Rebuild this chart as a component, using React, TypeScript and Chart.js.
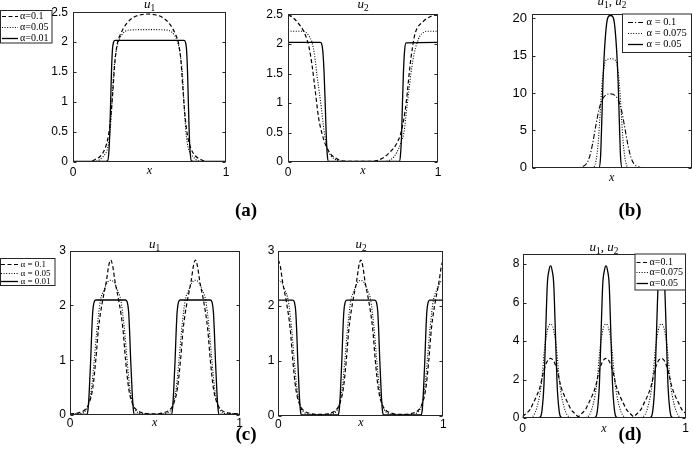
import React, { useEffect, useRef } from "react";
import { Chart, registerables } from "chart.js";
Chart.register(...registerables);

const W = 693;
const H = 466;
const SANS = '"Liberation Sans", Arial, sans-serif';
const SERIF = '"Liberation Serif", "Times New Roman", serif';

// ---------- Panel (a): u1 ----------
const aU1_x_01 = [0, 0.1, 0.15, 0.18, 0.21, 0.23, 0.245, 0.26, 0.275, 0.29, 0.31, 0.35, 0.4, 0.45, 0.49, 0.53, 0.58, 0.63, 0.67, 0.69, 0.705, 0.72, 0.735, 0.75, 0.77, 0.8, 0.83, 0.88, 1];
const aU1_y_01 = [0, 0, 0.05, 0.1, 0.23, 0.42, 0.7, 1.16, 1.7, 1.98, 2.13, 2.31, 2.42, 2.46, 2.47, 2.46, 2.42, 2.31, 2.13, 1.98, 1.7, 1.16, 0.7, 0.42, 0.23, 0.1, 0.05, 0, 0];
const aU1_x_005 = [0, 0.15, 0.176, 0.2, 0.22, 0.232, 0.242, 0.253, 0.264, 0.275, 0.286, 0.3, 0.318, 0.34, 0.36, 0.5, 0.62, 0.64, 0.662, 0.68, 0.694, 0.705, 0.716, 0.727, 0.738, 0.748, 0.76, 0.78, 0.804, 0.83, 1];
const aU1_y_005 = [0, 0.01, 0.04, 0.1, 0.18, 0.3, 0.5, 0.9, 1.44, 1.72, 1.9, 2.03, 2.12, 2.18, 2.2, 2.21, 2.2, 2.18, 2.12, 2.03, 1.9, 1.72, 1.44, 0.9, 0.5, 0.3, 0.18, 0.1, 0.04, 0.01, 0];
const aU1_x_001 = [0, 0.2, 0.226, 0.234, 0.24, 0.246, 0.252, 0.258, 0.265, 0.275, 0.5, 0.725, 0.735, 0.742, 0.748, 0.754, 0.76, 0.766, 0.774, 0.8, 1];
const aU1_y_001 = [0.01, 0.01, 0.02, 0.15, 0.45, 1.0, 1.55, 1.88, 2.0, 2.03, 2.03, 2.03, 2.0, 1.88, 1.55, 1.0, 0.45, 0.15, 0.02, 0.01, 0.01];

// ---------- Panel (a): u2 ----------
const aU2_x_01 = [0, 0.015, 0.06, 0.115, 0.14, 0.16, 0.182, 0.204, 0.225, 0.249, 0.28, 0.315, 0.36, 0.45, 0.55, 0.6, 0.64, 0.68, 0.724, 0.75, 0.769, 0.79, 0.812, 0.83, 0.847, 0.9, 0.95, 1];
const aU2_y_01 = [2.49, 2.48, 2.38, 2.16, 1.95, 1.65, 1.2, 0.75, 0.5, 0.3, 0.15, 0.07, 0.02, 0.01, 0.01, 0.03, 0.08, 0.17, 0.31, 0.47, 0.68, 1.05, 1.6, 1.95, 2.18, 2.38, 2.47, 2.5];
const aU2_x_005 = [0, 0.1, 0.12, 0.14, 0.16, 0.178, 0.193, 0.208, 0.222, 0.234, 0.244, 0.262, 0.282, 0.31, 0.35, 0.5, 0.65, 0.69, 0.71, 0.74, 0.757, 0.773, 0.785, 0.796, 0.81, 0.825, 0.842, 0.858, 0.88, 0.905, 0.925, 1];
const aU2_y_005 = [2.22, 2.22, 2.2, 2.14, 2.03, 1.8, 1.48, 1.2, 0.92, 0.66, 0.46, 0.24, 0.12, 0.05, 0.01, 0.0, 0.01, 0.05, 0.1, 0.24, 0.36, 0.5, 0.75, 1.0, 1.3, 1.6, 1.85, 2.0, 2.14, 2.2, 2.22, 2.22];
const aU2_x_001 = [0, 0.215, 0.225, 0.232, 0.24, 0.248, 0.255, 0.262, 0.27, 0.5, 0.742, 0.75, 0.757, 0.763, 0.77, 0.777, 0.787, 1];
const aU2_y_001 = [2.03, 2.03, 2.0, 1.88, 1.55, 1.0, 0.45, 0.12, 0.01, 0.01, 0.01, 0.12, 0.45, 1.0, 1.55, 1.88, 2.02, 2.03];

// ---------- Panel (b): u1, u2 ----------
const b_x_01 = [0, 0.29, 0.31, 0.34, 0.36, 0.38, 0.4, 0.42, 0.44, 0.46, 0.49, 0.52, 0.54, 0.56, 0.58, 0.6, 0.62, 0.64, 0.67, 0.69, 1];
const b_y_01 = [0, 0, 0.1, 0.5, 1.4, 3.2, 5.6, 7.8, 9.1, 9.7, 9.9, 9.7, 9.1, 7.8, 5.6, 3.2, 1.4, 0.5, 0.1, 0, 0];
const b_x_0075 = [0, 0.38, 0.4, 0.415, 0.425, 0.435, 0.445, 0.455, 0.47, 0.4935, 0.517, 0.532, 0.542, 0.552, 0.562, 0.572, 0.587, 0.607, 1];
const b_y_0075 = [0, 0, 0.8, 3.3, 6.5, 10, 12.5, 13.9, 14.5, 14.6, 14.5, 13.9, 12.5, 10, 6.5, 3.3, 0.8, 0, 0];
const b_x_005 = [0, 0.42, 0.43, 0.435, 0.44, 0.445, 0.45, 0.46, 0.47, 0.48, 0.4925, 0.505, 0.515, 0.525, 0.535, 0.54, 0.545, 0.55, 0.555, 0.565, 1];
const b_y_005 = [0, 0, 1.5, 4.5, 8, 11.5, 14, 17.5, 19.6, 20.3, 20.4, 20.3, 19.6, 17.5, 14, 11.5, 8, 4.5, 1.5, 0, 0];

// ---------- Panel (c): u1 ----------
const cU1_x_01 = [0, 0.05, 0.09, 0.113, 0.134, 0.152, 0.168, 0.19, 0.215, 0.228, 0.24, 0.252, 0.265, 0.29, 0.312, 0.328, 0.346, 0.367, 0.39, 0.43, 0.49, 0.55, 0.59, 0.613, 0.634, 0.652, 0.668, 0.69, 0.715, 0.728, 0.74, 0.752, 0.765, 0.79, 0.812, 0.828, 0.846, 0.867, 0.89, 0.93, 1];
const cU1_y_01 = [0.02, 0.04, 0.1, 0.22, 0.49, 1.0, 1.58, 2.05, 2.45, 2.72, 2.83, 2.72, 2.45, 2.05, 1.58, 1.0, 0.49, 0.22, 0.1, 0.04, 0.02, 0.04, 0.1, 0.22, 0.49, 1.0, 1.58, 2.05, 2.45, 2.72, 2.83, 2.72, 2.45, 2.05, 1.58, 1.0, 0.49, 0.22, 0.1, 0.04, 0.02];
const cU1_x_005 = [0, 0.04, 0.09, 0.109, 0.127, 0.143, 0.16, 0.18, 0.2, 0.22, 0.24, 0.26, 0.28, 0.3, 0.32, 0.337, 0.353, 0.371, 0.39, 0.44, 0.5, 0.54, 0.59, 0.609, 0.627, 0.643, 0.66, 0.68, 0.7, 0.72, 0.74, 0.76, 0.78, 0.8, 0.82, 0.837, 0.853, 0.871, 0.89, 0.94, 1];
const cU1_y_005 = [0.02, 0.02, 0.07, 0.2, 0.49, 1.0, 1.6, 2.1, 2.28, 2.42, 2.46, 2.42, 2.28, 2.1, 1.6, 1.0, 0.49, 0.2, 0.07, 0.02, 0.01, 0.02, 0.07, 0.2, 0.49, 1.0, 1.6, 2.1, 2.28, 2.42, 2.46, 2.42, 2.28, 2.1, 1.6, 1.0, 0.49, 0.2, 0.07, 0.02, 0.02];
const cU1_x_001 = [0, 0.1, 0.107, 0.113, 0.122, 0.128, 0.134, 0.142, 0.152, 0.328, 0.338, 0.346, 0.352, 0.358, 0.367, 0.373, 0.38, 0.5, 0.598, 0.605, 0.611, 0.62, 0.626, 0.632, 0.64, 0.65, 0.828, 0.838, 0.846, 0.852, 0.858, 0.867, 0.873, 0.88, 1];
const cU1_y_001 = [0.01, 0.01, 0.12, 0.4, 1.0, 1.5, 1.88, 2.06, 2.1, 2.1, 2.06, 1.88, 1.5, 1.0, 0.4, 0.12, 0.01, 0.01, 0.01, 0.12, 0.4, 1.0, 1.5, 1.88, 2.06, 2.1, 2.1, 2.06, 1.88, 1.5, 1.0, 0.4, 0.12, 0.01, 0.01];

// ---------- Panel (c): u2 ----------
const cU2_x_01 = [0, 0.012, 0.025, 0.05, 0.072, 0.088, 0.106, 0.127, 0.15, 0.19, 0.25, 0.31, 0.35, 0.373, 0.394, 0.412, 0.428, 0.45, 0.475, 0.488, 0.5, 0.512, 0.525, 0.55, 0.572, 0.588, 0.606, 0.627, 0.65, 0.69, 0.75, 0.81, 0.85, 0.873, 0.894, 0.912, 0.928, 0.95, 0.975, 0.988, 1];
const cU2_y_01 = [2.83, 2.72, 2.45, 2.05, 1.58, 1.0, 0.49, 0.22, 0.1, 0.04, 0.02, 0.04, 0.1, 0.22, 0.49, 1.0, 1.58, 2.05, 2.45, 2.72, 2.83, 2.72, 2.45, 2.05, 1.58, 1.0, 0.49, 0.22, 0.1, 0.04, 0.02, 0.04, 0.1, 0.22, 0.49, 1.0, 1.58, 2.05, 2.45, 2.72, 2.83];
const cU2_x_005 = [0, 0.02, 0.04, 0.06, 0.08, 0.097, 0.113, 0.131, 0.15, 0.2, 0.25, 0.3, 0.35, 0.369, 0.387, 0.403, 0.42, 0.44, 0.46, 0.48, 0.5, 0.52, 0.54, 0.56, 0.58, 0.597, 0.613, 0.631, 0.65, 0.7, 0.75, 0.8, 0.85, 0.869, 0.887, 0.903, 0.92, 0.94, 0.96, 0.98, 1];
const cU2_y_005 = [2.46, 2.42, 2.28, 2.1, 1.6, 1.0, 0.49, 0.2, 0.07, 0.02, 0.01, 0.02, 0.07, 0.2, 0.49, 1.0, 1.6, 2.1, 2.28, 2.42, 2.46, 2.42, 2.28, 2.1, 1.6, 1.0, 0.49, 0.2, 0.07, 0.02, 0.01, 0.02, 0.07, 0.2, 0.49, 1.0, 1.6, 2.1, 2.28, 2.42, 2.46];
const cU2_x_001 = [0, 0.088, 0.098, 0.106, 0.112, 0.118, 0.127, 0.133, 0.14, 0.25, 0.363, 0.37, 0.376, 0.385, 0.391, 0.397, 0.405, 0.415, 0.585, 0.595, 0.603, 0.609, 0.615, 0.624, 0.63, 0.637, 0.75, 0.866, 0.873, 0.879, 0.888, 0.894, 0.9, 0.908, 0.918, 1];
const cU2_y_001 = [2.1, 2.1, 2.06, 1.88, 1.5, 1.0, 0.4, 0.12, 0.01, 0.01, 0.01, 0.12, 0.4, 1.0, 1.5, 1.88, 2.06, 2.1, 2.1, 2.06, 1.88, 1.5, 1.0, 0.4, 0.12, 0.01, 0.01, 0.01, 0.12, 0.4, 1.0, 1.5, 1.88, 2.06, 2.1, 2.1];

// ---------- Panel (d): u1, u2 ----------
const d_x_01 = [0, 0.024, 0.047, 0.065, 0.087, 0.108, 0.132, 0.152, 0.172, 0.192, 0.212, 0.236, 0.257, 0.279, 0.297, 0.32, 0.342, 0.364, 0.387, 0.405, 0.427, 0.448, 0.472, 0.492, 0.512, 0.532, 0.552, 0.576, 0.597, 0.619, 0.637, 0.66, 0.682, 0.704, 0.727, 0.745, 0.767, 0.788, 0.812, 0.832, 0.852, 0.872, 0.892, 0.916, 0.937, 0.959, 0.977, 1];
const d_y_01 = [0.08, 0.24, 0.45, 0.76, 1.15, 1.63, 2.5, 2.95, 3.1, 2.95, 2.5, 1.63, 1.15, 0.76, 0.45, 0.24, 0.08, 0.24, 0.45, 0.76, 1.15, 1.63, 2.5, 2.95, 3.1, 2.95, 2.5, 1.63, 1.15, 0.76, 0.45, 0.24, 0.08, 0.24, 0.45, 0.76, 1.15, 1.63, 2.5, 2.95, 3.1, 2.95, 2.5, 1.63, 1.15, 0.76, 0.45, 0.24];
const d_x_0075 = [0, 0.032, 0.062, 0.095, 0.116, 0.1345, 0.147, 0.159, 0.172, 0.185, 0.197, 0.2095, 0.228, 0.249, 0.282, 0.312, 0.372, 0.402, 0.435, 0.456, 0.4745, 0.487, 0.499, 0.512, 0.525, 0.537, 0.5495, 0.568, 0.589, 0.622, 0.652, 0.712, 0.742, 0.775, 0.796, 0.8145, 0.827, 0.839, 0.852, 0.865, 0.877, 0.8895, 0.908, 0.929, 0.962, 0.992, 1];
const d_y_0075 = [0.02, 0.02, 0.08, 0.76, 1.8, 3.53, 4.3, 4.75, 4.88, 4.75, 4.3, 3.53, 1.8, 0.76, 0.08, 0.02, 0.02, 0.08, 0.76, 1.8, 3.53, 4.3, 4.75, 4.88, 4.75, 4.3, 3.53, 1.8, 0.76, 0.08, 0.02, 0.02, 0.08, 0.76, 1.8, 3.53, 4.3, 4.75, 4.88, 4.75, 4.3, 3.53, 1.8, 0.76, 0.08, 0.02, 0.02];
const d_x_005 = [0, 0.092, 0.109, 0.12, 0.132, 0.142, 0.152, 0.162, 0.172, 0.182, 0.192, 0.202, 0.212, 0.224, 0.235, 0.252, 0.432, 0.449, 0.46, 0.472, 0.482, 0.492, 0.502, 0.512, 0.522, 0.532, 0.542, 0.552, 0.564, 0.575, 0.592, 0.772, 0.789, 0.8, 0.812, 0.822, 0.832, 0.842, 0.852, 0.862, 0.872, 0.882, 0.892, 0.904, 0.915, 0.932, 1];
const d_y_005 = [0.01, 0.01, 0.05, 0.42, 1.8, 4.4, 6.9, 7.65, 7.9, 7.65, 6.9, 4.4, 1.8, 0.42, 0.05, 0.01, 0.01, 0.05, 0.42, 1.8, 4.4, 6.9, 7.65, 7.9, 7.65, 6.9, 4.4, 1.8, 0.42, 0.05, 0.01, 0.01, 0.05, 0.42, 1.8, 4.4, 6.9, 7.65, 7.9, 7.65, 6.9, 4.4, 1.8, 0.42, 0.05, 0.01, 0.01];

// ---------- Ticks and labels ----------
const aTicksY = [0, 0.5, 1, 1.5, 2, 2.5];
const aTickLabelsY = ["0", "0.5", "1", "1.5", "2", "2.5"];
const bTicksY = [0, 5, 10, 15, 20];
const bTickLabelsY = ["0", "5", "10", "15", "20"];
const cTicksY = [0, 1, 2, 3];
const cTickLabelsY = ["0", "1", "2", "3"];
const dTicksY = [0, 2, 4, 6, 8];
const dTickLabelsY = ["0", "2", "4", "6", "8"];
const xTicks01 = [0, 1];
const xTickLabels01 = ["0", "1"];

const legendA = ["α=0.1", "α=0.05", "α=0.01"];
const legendB = ["α = 0.1", "α = 0.075", "α = 0.05"];
const legendC = ["α = 0.1", "α = 0.05", "α = 0.01"];
const legendD = ["α=0.1", "α=0.075", "α=0.05"];

const panelLabels = ["(a)", "(b)", "(c)", "(d)"];

// ---------- Styles ----------
const DASH = [4, 2.5];
const DOT = [1, 1.6];
const DASHDOT = [5, 2, 1.2, 2];
const SOLID: number[] = [];

type Series = { x: number[]; y: number[]; dash: number[]; width: number };
type Tok = [string, "i" | "s" | "n"];
type Legend = { box: [number, number, number, number]; rows: number[]; line: [number, number]; textX: number; font: number; labels: string[] };
type Panel = {
  area: [number, number, number, number];
  yMax: number;
  yTicks: number[];
  yLabels: string[];
  yPad: number;
  showX: boolean;
  xPad: number;
  tickFont: number;
  title: Tok[];
  titleX: number;
  titleY: number;
  xLabelY: number;
  series: Series[];
  legend: Legend | null;
};

const tU1: Tok[] = [["u", "i"], ["1", "s"]];
const tU2: Tok[] = [["u", "i"], ["2", "s"]];
const tU12: Tok[] = [["u", "i"], ["1", "s"], [", ", "n"], ["u", "i"], ["2", "s"]];

const panels: Panel[] = [
  {
    area: [73, 10.7, 226, 162], yMax: 2.5, yTicks: aTicksY, yLabels: aTickLabelsY, yPad: 5,
    showX: true, xPad: 3, tickFont: 12, title: tU1, titleX: 149.5, titleY: 8, xLabelY: 171,
    series: [
      { x: aU1_x_01, y: aU1_y_01, dash: DASH, width: 1.2 },
      { x: aU1_x_005, y: aU1_y_005, dash: DOT, width: 1.1 },
      { x: aU1_x_001, y: aU1_y_001, dash: SOLID, width: 1.3 },
    ],
    legend: { box: [0.5, 10.5, 52, 43], rows: [16, 27, 38], line: [2, 18], textX: 20, font: 10, labels: legendA },
  },
  {
    area: [288, 13.5, 438, 162], yMax: 2.52, yTicks: aTicksY, yLabels: aTickLabelsY, yPad: 5,
    showX: true, xPad: 3, tickFont: 12, title: tU2, titleX: 363, titleY: 8, xLabelY: 171,
    series: [
      { x: aU2_x_01, y: aU2_y_01, dash: DASH, width: 1.2 },
      { x: aU2_x_005, y: aU2_y_005, dash: DOT, width: 1.1 },
      { x: aU2_x_001, y: aU2_y_001, dash: SOLID, width: 1.3 },
    ],
    legend: null,
  },
  {
    area: [532, 14, 691.5, 167.7], yMax: 20.6, yTicks: bTicksY, yLabels: bTickLabelsY, yPad: 5,
    showX: false, xPad: 3, tickFont: 13, title: tU12, titleX: 612, titleY: 5, xLabelY: 178,
    series: [
      { x: b_x_01, y: b_y_01, dash: DASHDOT, width: 1.1 },
      { x: b_x_0075, y: b_y_0075, dash: DOT, width: 1.1 },
      { x: b_x_005, y: b_y_005, dash: SOLID, width: 1.3 },
    ],
    legend: { box: [622.5, 14, 691.5, 52.5], rows: [22, 33.3, 44.3], line: [628, 643], textX: 646.5, font: 10.5, labels: legendB },
  },
  {
    area: [70, 250.7, 239.5, 415], yMax: 3, yTicks: cTicksY, yLabels: cTickLabelsY, yPad: 4,
    showX: true, xPad: 1.5, tickFont: 12, title: tU1, titleX: 154.5, titleY: 248, xLabelY: 423,
    series: [
      { x: cU1_x_01, y: cU1_y_01, dash: DASH, width: 1.2 },
      { x: cU1_x_005, y: cU1_y_005, dash: DOT, width: 1.1 },
      { x: cU1_x_001, y: cU1_y_001, dash: SOLID, width: 1.3 },
    ],
    legend: { box: [0.5, 258.5, 55, 285.5], rows: [263.5, 272.5, 281], line: [1, 18], textX: 20.5, font: 9, labels: legendC },
  },
  {
    area: [278.3, 250.7, 443.3, 415.5], yMax: 3, yTicks: cTicksY, yLabels: cTickLabelsY, yPad: 4,
    showX: true, xPad: 1.5, tickFont: 12, title: tU2, titleX: 361, titleY: 248, xLabelY: 423,
    series: [
      { x: cU2_x_01, y: cU2_y_01, dash: DASH, width: 1.2 },
      { x: cU2_x_005, y: cU2_y_005, dash: DOT, width: 1.1 },
      { x: cU2_x_001, y: cU2_y_001, dash: SOLID, width: 1.3 },
    ],
    legend: null,
  },
  {
    area: [522.5, 254, 685.5, 418], yMax: 8.52, yTicks: dTicksY, yLabels: dTickLabelsY, yPad: 3,
    showX: true, xPad: 3.5, tickFont: 12, title: tU12, titleX: 604, titleY: 251, xLabelY: 429,
    series: [
      { x: d_x_01, y: d_y_01, dash: DASH, width: 1.2 },
      { x: d_x_0075, y: d_y_0075, dash: DOT, width: 1.1 },
      { x: d_x_005, y: d_y_005, dash: SOLID, width: 1.3 },
    ],
    legend: { box: [635, 254, 685.5, 290], rows: [261.7, 272.3, 283.3], line: [636.5, 648], textX: 649.5, font: 10, labels: legendD },
  },
];

const labelPos: [number, number][] = [
  [246, 209],
  [630, 209],
  [246, 433],
  [630, 433],
];

const YW = 40;
const XH = 24;
const FRAME = "#262626";

function drawRich(ctx: CanvasRenderingContext2D, toks: Tok[], cx: number, base: number, size: number) {
  const fontFor = (k: string) =>
    k === "i" ? `italic ${size}px ${SERIF}` : k === "s" ? `${size * 0.72}px ${SERIF}` : `${size}px ${SERIF}`;
  let total = 0;
  const widths = toks.map(([t, k]) => {
    ctx.font = fontFor(k);
    const w = ctx.measureText(t).width;
    total += w;
    return w;
  });
  let x = cx - total / 2;
  ctx.textAlign = "left";
  ctx.textBaseline = "alphabetic";
  toks.forEach(([t, k], i) => {
    ctx.font = fontFor(k);
    ctx.fillText(t, x, k === "s" ? base + size * 0.25 : base);
    x += widths[i];
  });
}

function makeOverlay(p: Panel) {
  return {
    id: "overlay",
    afterDraw(chart: any) {
      const ctx: CanvasRenderingContext2D = chart.ctx;
      const a = chart.chartArea;
      const ys = chart.scales.y;
      ctx.save();
      ctx.setLineDash([]);
      ctx.strokeStyle = FRAME;
      ctx.lineWidth = 1;
      const l = Math.round(a.left) + 0.5;
      const r = Math.round(a.right) - 0.5;
      const t = Math.round(a.top) + 0.5;
      const b = Math.round(a.bottom) - 0.5;
      ctx.strokeRect(l, t, r - l, b - t);
      ctx.beginPath();
      p.yTicks.forEach((v) => {
        const y = Math.round(ys.getPixelForValue(v)) + 0.5;
        ctx.moveTo(l, y);
        ctx.lineTo(l + 3, y);
        ctx.moveTo(r, y);
        ctx.lineTo(r - 3, y);
      });
      ctx.stroke();
      ctx.fillStyle = "#000";
      drawRich(ctx, p.title, p.titleX, p.titleY, 13);
      ctx.font = `italic 12px ${SERIF}`;
      ctx.textAlign = "center";
      ctx.textBaseline = "middle";
      ctx.fillText("x", (a.left + a.right) / 2, p.xLabelY);
      const lg = p.legend;
      if (lg) {
        const [x0, y0, x1, y1] = lg.box;
        ctx.fillStyle = "#fff";
        ctx.fillRect(x0, y0, x1 - x0, y1 - y0);
        ctx.strokeStyle = FRAME;
        ctx.lineWidth = 1;
        ctx.strokeRect(x0, y0, x1 - x0, y1 - y0);
        p.series.forEach((s, i) => {
          const ry = Math.round(lg.rows[i]) + 0.5;
          ctx.strokeStyle = "#000";
          ctx.lineWidth = s.width;
          ctx.setLineDash(s.dash);
          ctx.beginPath();
          ctx.moveTo(lg.line[0], ry);
          ctx.lineTo(lg.line[1], ry);
          ctx.stroke();
          ctx.setLineDash([]);
          ctx.fillStyle = "#000";
          ctx.font = `${lg.font}px ${SERIF}`;
          ctx.textAlign = "left";
          ctx.textBaseline = "middle";
          ctx.fillText(lg.labels[i], lg.textX, ry);
        });
      }
      ctx.restore();
    },
  };
}

function PanelChart({ p }: { p: Panel }) {
  const ref = useRef<HTMLCanvasElement>(null);
  useEffect(() => {
    const [L, T, R, B] = p.area;
    const chart = new Chart(ref.current as HTMLCanvasElement, {
      type: "line",
      data: {
        datasets: p.series.map((s) => ({
          data: s.x.map((x, i) => ({ x, y: s.y[i] })),
          borderColor: "#000",
          borderWidth: s.width,
          borderDash: s.dash,
          pointRadius: 0,
          fill: false,
          cubicInterpolationMode: "monotone" as const,
        })),
      },
      options: {
        animation: false,
        responsive: false,
        maintainAspectRatio: false,
        devicePixelRatio: 1,
        events: [],
        layout: { padding: { left: L - YW, top: T, right: W - R, bottom: H - B - XH } },
        plugins: { legend: { display: false }, title: { display: false }, tooltip: { enabled: false } },
        scales: {
          x: {
            type: "linear",
            min: 0,
            max: 1,
            afterFit: (s: any) => {
              s.height = XH;
            },
            afterBuildTicks: (s: any) => {
              s.ticks = xTicks01.map((v) => ({ value: v }));
            },
            grid: { display: false, drawTicks: false },
            border: { display: false },
            ticks: {
              display: p.showX,
              padding: p.xPad,
              autoSkip: false,
              maxRotation: 0,
              color: "#000",
              font: { family: SANS, size: p.tickFont },
              callback: (_v: any, i: number) => xTickLabels01[i],
            },
          },
          y: {
            type: "linear",
            min: 0,
            max: p.yMax,
            afterFit: (s: any) => {
              s.width = YW;
            },
            afterBuildTicks: (s: any) => {
              s.ticks = p.yTicks.map((v) => ({ value: v }));
            },
            grid: { display: false, drawTicks: false },
            border: { display: false },
            ticks: {
              padding: p.yPad,
              autoSkip: false,
              color: "#000",
              font: { family: SANS, size: p.tickFont },
              callback: (_v: any, i: number) => p.yLabels[i],
            },
          },
        },
      } as any,
      plugins: [makeOverlay(p)],
    });
    return () => chart.destroy();
  }, []);
  return (
    <canvas
      ref={ref}
      width={W}
      height={H}
      style={{ position: "absolute", left: 0, top: 0, width: W, height: H }}
    />
  );
}

export default function App() {
  return (
    <div style={{ position: "fixed", left: 0, top: 0, width: W, height: H, background: "#fff", overflow: "hidden" }}>
      {panels.map((p, i) => (
        <PanelChart key={i} p={p} />
      ))}
      {panelLabels.map((t, i) => (
        <div
          key={t}
          style={{
            position: "absolute",
            left: labelPos[i][0],
            top: labelPos[i][1],
            transform: "translate(-50%, -50%)",
            font: `bold 19px ${SERIF}`,
            lineHeight: 1,
            color: "#000",
            whiteSpace: "nowrap",
          }}
        >
          {t}
        </div>
      ))}
    </div>
  );
}
